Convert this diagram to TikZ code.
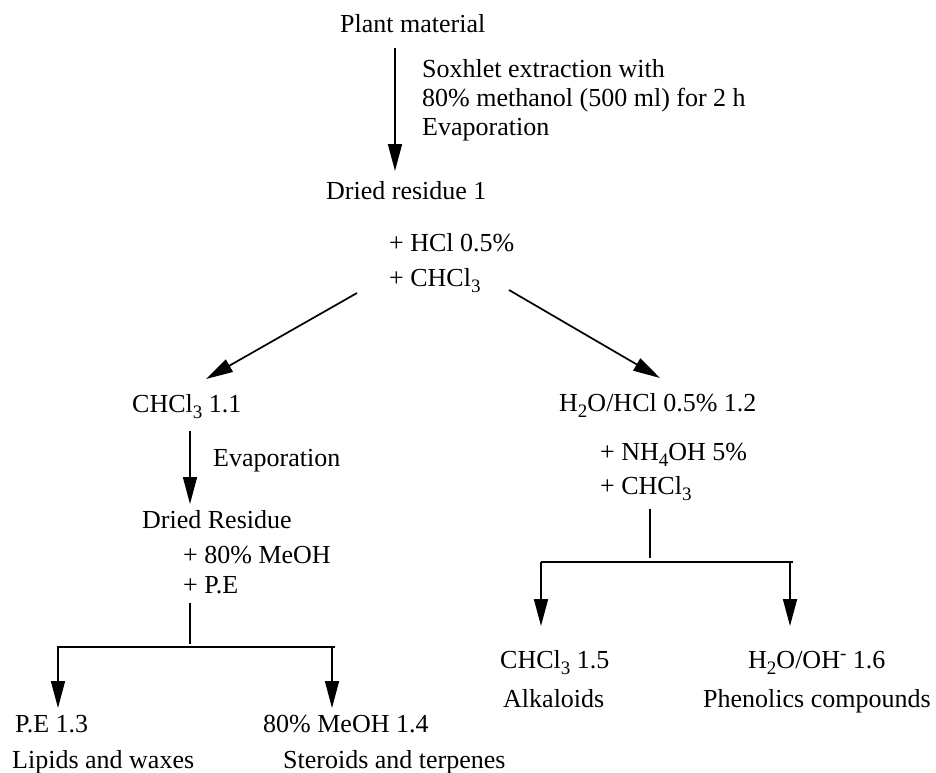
\documentclass[tikz,border=0pt]{standalone}
\usepackage{fontspec}
\setmainfont{Liberation Serif}
\usetikzlibrary{arrows.meta}
\newcommand{\mysub}[1]{\raisebox{-6pt}{\fontsize{19}{19}\selectfont #1}}
\newcommand{\mysup}[1]{\raisebox{9pt}{\fontsize{19}{19}\selectfont #1}}
\begin{document}
\begin{tikzpicture}[x=1pt,y=-1pt,
  lbl/.style={anchor=base west,inner sep=0pt,font=\fontsize{26}{30}\selectfont},
  conn/.style={line width=1.7pt},
  arr/.style={conn,-{Triangle[length=27pt,width=14pt]}}]
\useasboundingbox (0,0) rectangle (936,772);
% texts
\node[lbl] (plant) at (340,32) {Plant material};
\node[lbl] (sox1) at (422,77) {Soxhlet extraction with};
\node[lbl] (sox2) at (422,106) {80\% methanol (500 ml) for 2 h};
\node[lbl] (sox3) at (422,135) {Evaporation};
\node[lbl] (dr1) at (326,199) {Dried residue 1};
\node[lbl] (hcl1) at (389,251) {+ HCl 0.5\%};
\node[lbl] (hcl2) at (389,286) {+ CHCl\mysub{3}};
\node[lbl] (c11) at (132,412) {CHCl\mysub{3} 1.1};
\node[lbl] (h2o) at (559,411) {H\mysub{2}O/HCl 0.5\% 1.2};
\node[lbl] (evap) at (213,466) {Evaporation};
\node[lbl] (drR) at (142,528) {Dried Residue};
\node[lbl] (me1) at (183,563) {+ 80\% MeOH};
\node[lbl] (me2) at (183,593) {+ P.E};
\node[lbl] (nh1) at (600,460) {+ NH\mysub{4}OH 5\%};
\node[lbl] (nh2) at (600,494) {+ CHCl\mysub{3}};
\node[lbl] (pe13) at (15,732) {P.E 1.3};
\node[lbl] (lip) at (12,768) {Lipids and waxes};
\node[lbl] (me14) at (263,732) {80\% MeOH 1.4};
\node[lbl] (ster) at (283,768) {Steroids and terpenes};
\node[lbl] (c15) at (500,668) {CHCl\mysub{3} 1.5};
\node[lbl] (alk) at (503,707) {Alkaloids};
\node[lbl] (oh16) at (748,668) {H\mysub{2}O/OH\mysup{-} 1.6};
\node[lbl] (phen) at (703,707) {Phenolics compounds};
% connector end points
\coordinate (a1s) at (395,48);  \coordinate (a1e) at (395,171);
\coordinate (a2s) at (357,293); \coordinate (a2e) at (206,379);
\coordinate (a3s) at (509,290); \coordinate (a3e) at (660,378);
\coordinate (a4s) at (190,431); \coordinate (a4e) at (190,504);
\coordinate (ls) at (190,603);  \coordinate (le) at (190,644);
\coordinate (lbl1) at (57,647); \coordinate (lbr) at (335,647);
\coordinate (lal) at (58,647);  \coordinate (lale) at (58,708);
\coordinate (lar) at (332,647); \coordinate (lare) at (332,708);
\coordinate (rs) at (650,509);  \coordinate (re) at (650,558);
\coordinate (rbl) at (541,562); \coordinate (rbr) at (793,562);
\coordinate (ral) at (541,562); \coordinate (rale) at (541,626);
\coordinate (rar) at (790,562); \coordinate (rare) at (790,626);
% connectors
\draw[arr] (a1s) -- (a1e);
\draw[arr] (a2s) -- (a2e);
\draw[arr] (a3s) -- (a3e);
\draw[arr] (a4s) -- (a4e);
\draw[conn] (ls) -- (le);
\draw[conn] (lbl1) -- (lbr);
\draw[arr] (lal) -- (lale);
\draw[arr] (lar) -- (lare);
\draw[conn] (rs) -- (re);
\draw[conn] (rbl) -- (rbr);
\draw[arr] (ral) -- (rale);
\draw[arr] (rar) -- (rare);
\end{tikzpicture}
\end{document}
